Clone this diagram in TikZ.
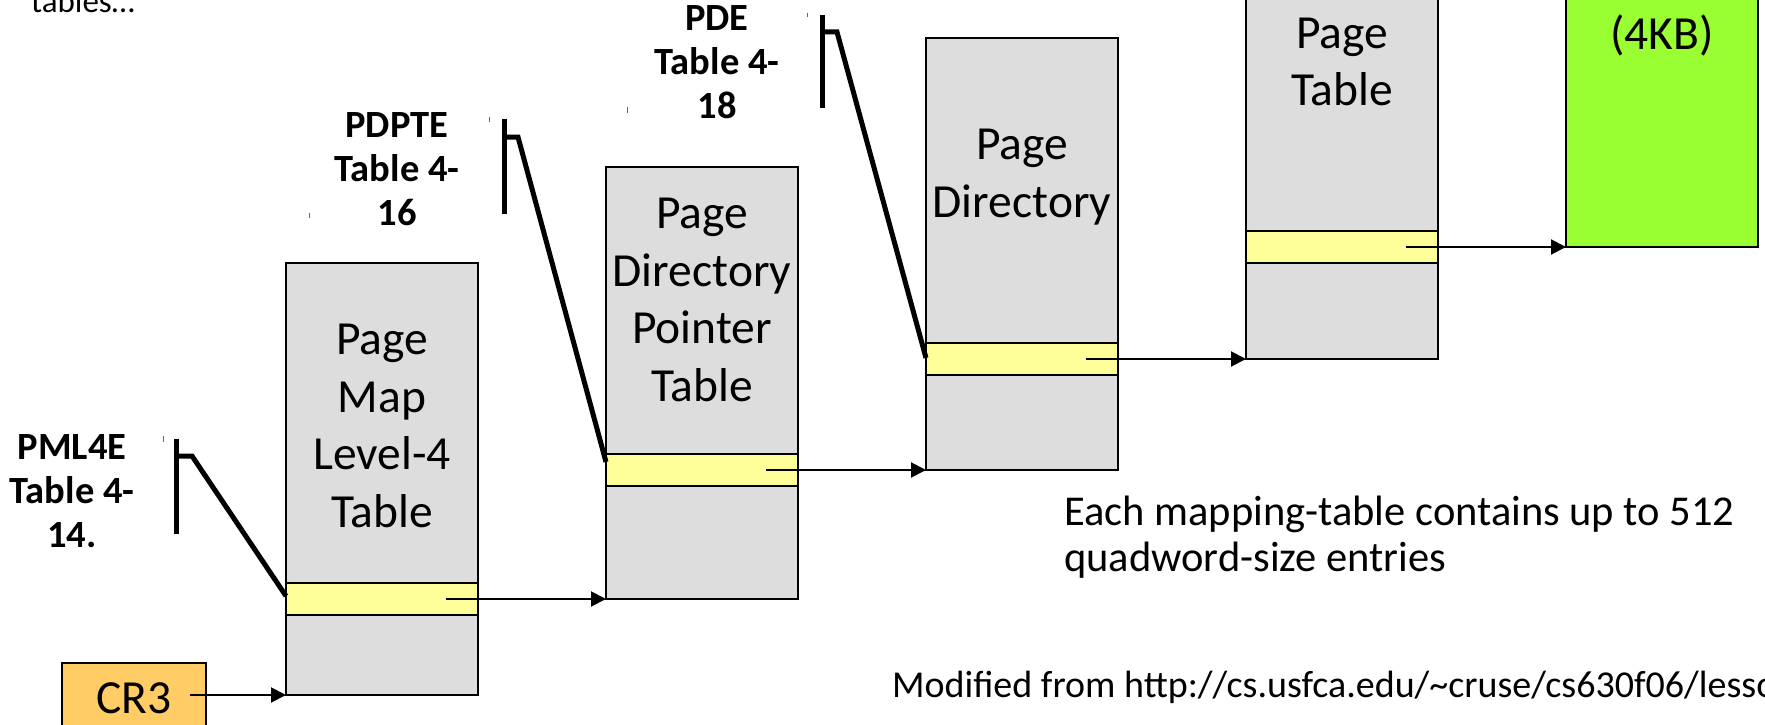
\documentclass[tikz,border=0pt]{standalone}
\usepackage{fontspec}
\setmainfont{Carlito}
\usetikzlibrary{arrows.meta}
\definecolor{tablegray}{RGB}{221,221,221}
\definecolor{entryyellow}{RGB}{255,255,153}
\definecolor{framegreen}{RGB}{153,255,51}
\definecolor{regorange}{RGB}{255,204,102}
\tikzset{
  tbl/.style={draw=black, line width=2.2pt, fill=tablegray, minimum width=192pt,
    minimum height=432pt, inner sep=0pt, outer sep=0pt, anchor=north west},
  entry/.style={draw=black, line width=2.2pt, fill=entryyellow, minimum width=192pt,
    minimum height=32pt, inner sep=0pt, outer sep=0pt, anchor=west},
  % multi-line texts are placed by the baseline of their last line
  tbltext/.style={align=center, anchor=base, inner sep=0pt,
    font=\fontsize{47.5}{57.5}\selectfont},
  reftext/.style={align=center, anchor=base, inner sep=0pt,
    font=\bfseries\fontsize{38.5}{44}\selectfont},
  ptr/.style={line width=2pt, -{Triangle[length=15pt,width=15pt]}},
  callout/.style={line width=5pt},
  speck/.style={line width=1pt, draw=black!60},
}
\begin{document}
\begin{tikzpicture}[x=1pt, y=-1pt]
\useasboundingbox (0,0) rectangle (1765,725);
\clip (0,0) rectangle (1765,725);

% the four mapping tables and the page frame
\node[tbl] (pml4) at (286,263) {};
\node[tbl] (pdpt) at (606,167) {};
\node[tbl] (pd) at (926,38) {};
\node[tbl] (pt) at (1246,-73) {};
\node[tbl, fill=framegreen] (frame) at (1566,-185) {};

% the selected entry in each table
\node[entry] (e1) at (286,599) {};
\node[entry] (e2) at (606,470) {};
\node[entry] (e3) at (926,359) {};
\node[entry] (e4) at (1246,247) {};

% CR3 register
\node[draw=black, line width=2.2pt, fill=regorange, minimum width=144pt,
  minimum height=70pt, anchor=north west, inner sep=0pt, outer sep=0pt,
  font=\fontsize{47.5}{56}\selectfont] (cr3) at (62,663) {CR3};

% table titles
\node[tbltext] (t1) at (382,527) {Page\\Map\\Level-4\\Table};
\node[tbltext] (t2) at (702,401) {Page\\Directory\\Pointer\\Table};
\node[tbltext] (t3) at (1022,217) {Page\\Directory};
\node[tbltext] (t4) at (1342,106) {Page\\Table};
\node[tbltext] (t5) at (1662,50) {(4KB)};

% pointers from entry to next level
\draw[ptr] ([xshift=-16pt]cr3.east |- pml4.south) -- (pml4.south west);
\draw[ptr] ([xshift=-32pt]e1.east) -- (pdpt.south west);
\draw[ptr] ([xshift=-32pt]e2.east) -- (pd.south west);
\draw[ptr] ([xshift=-32pt]e3.east) -- (pt.south west);
\draw[ptr] ([xshift=-32pt]e4.east) -- (frame.south west);

% entry-format references
\node[reftext] (r1) at (72,547) {PML4E\\Table 4-\\14.};
\node[reftext] (r2) at (397,225) {PDPTE\\Table 4-\\16};
\node[reftext] (r3) at (717,118) {PDE\\Table 4-\\18};

% callout lines with accent bars
\coordinate (b1t) at (176,439); \coordinate (b1b) at (176,534);
\coordinate (b1m) at (176,456); \coordinate (b1k) at (192,456);
\draw[callout] (b1t) -- (b1b);
\draw[callout] (b1m) -- (b1k) -- ([yshift=3pt]e1.west);

\coordinate (b2t) at (504,119); \coordinate (b2b) at (504,214);
\coordinate (b2m) at (504,137); \coordinate (b2k) at (518,137);
\draw[callout] (b2t) -- (b2b);
\draw[callout] (b2m) -- (b2k) -- ([yshift=8pt]e2.west);

\coordinate (b3t) at (822,15); \coordinate (b3b) at (822,108);
\coordinate (b3m) at (822,32); \coordinate (b3k) at (837,32);
\draw[callout] (b3t) -- (b3b);
\draw[callout] (b3m) -- (b3k) -- ([yshift=1pt]e3.west);

% small text-frame corner marks
\draw[speck] (163,436) -- (163,442);
\draw[speck] (489,117) -- (489,122);
\draw[speck] (309,213) -- (309,218);
\draw[speck] (807,13) -- (807,17);
\draw[speck] (627,107) -- (627,113);

% notes
\node[anchor=base west, inner sep=0pt, align=left,
  font=\fontsize{42.5}{46}\selectfont] (note) at (1064,571)
  {Each mapping-table contains up to 512\\quadword-size entries};
\node[anchor=base west, inner sep=0pt, font=\fontsize{38}{44}\selectfont] (src)
  at (892,697) {Modified from http://cs.usfca.edu/\textasciitilde cruse/cs630f06/lesso};
\node[anchor=base west, inner sep=0pt, font=\fontsize{33}{38}\selectfont] (frag)
  at (31,13) {tables…};
\end{tikzpicture}
\end{document}
